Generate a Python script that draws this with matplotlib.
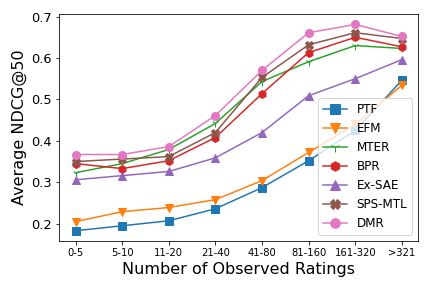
import matplotlib
matplotlib.use("Agg")
import matplotlib.pyplot as plt

categories = ['0-5', '5-10', '11-20', '21-40', '41-80', '81-160', '161-320', '>321']

ptf = [0.183, 0.195, 0.207, 0.236, 0.287, 0.352, 0.425, 0.546]
efm = [0.205, 0.229, 0.239, 0.258, 0.304, 0.372, 0.440, 0.534]
mter = [0.323, 0.345, 0.379, 0.442, 0.543, 0.591, 0.630, 0.623]
bpr = [0.345, 0.333, 0.352, 0.408, 0.514, 0.613, 0.650, 0.627]
ex_sae = [0.306, 0.316, 0.326, 0.359, 0.420, 0.509, 0.550, 0.596]
sps_mtl = [0.350, 0.356, 0.362, 0.420, 0.553, 0.632, 0.661, 0.647]
dmr = [0.367, 0.367, 0.386, 0.461, 0.570, 0.661, 0.681, 0.652]

fig, ax = plt.subplots(figsize=(6, 4), dpi=72)
x = range(len(categories))

ax.plot(x, ptf, marker='s', markersize=8, label='PTF')
ax.plot(x, efm, marker='v', markersize=8, label='EFM')
ax.plot(x, mter, marker='1', markersize=8, label='MTER')
ax.plot(x, bpr, marker='h', markersize=8, label='BPR')
ax.plot(x, ex_sae, marker='^', markersize=8, label='Ex-SAE')
ax.plot(x, sps_mtl, marker='X', markersize=8, label='SPS-MTL')
ax.plot(x, dmr, marker='o', markersize=8, label='DMR')

ax.set_xticks(list(x))
ax.set_xticklabels(categories, fontsize=10)
ax.tick_params(axis='y', labelsize=13)
ax.set_xlabel('Number of Observed Ratings', fontsize=16)
ax.set_ylabel('Average NDCG@50', fontsize=16)
ax.legend(loc='lower right', fontsize=12, markerscale=1.2)

fig.subplots_adjust(left=0.137, right=0.968, top=0.951, bottom=0.163)
fig.savefig('out.png')
